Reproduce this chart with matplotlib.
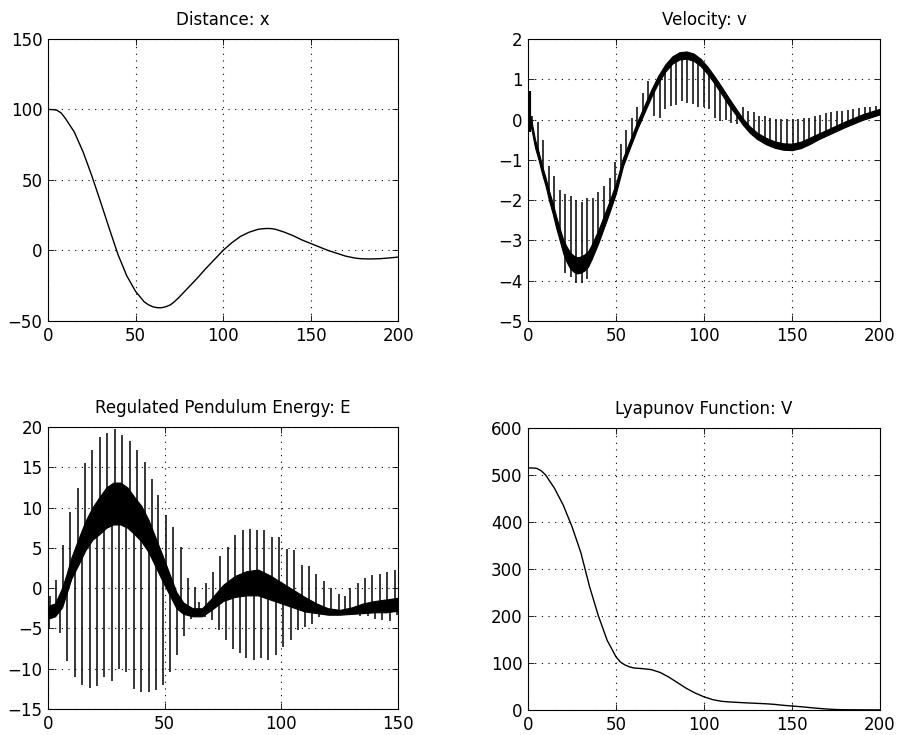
import numpy as np
import matplotlib
matplotlib.use('Agg')
import matplotlib.pyplot as plt

# distance x
x_t = [0, 2.5, 5, 7.5, 10, 15, 20, 25, 30, 35, 40, 45, 50, 55, 57.5, 60, 62.5, 65, 67.5, 70,
       72.5, 75, 80, 85, 90, 95, 100, 105, 110, 115, 120, 122.5, 125, 127.5, 130, 135, 140, 145, 150, 155,
       160, 165, 170, 175, 177.5, 180, 182.5, 185, 190, 195, 200]
x_val = [100, 99.9, 99.5, 97.5, 93.5, 84, 70, 53, 34.5, 15.5, -3, -18, -29, -36.5, -38.6, -40, -40.6, -40.6, -39.8, -38.5,
         -36, -33, -26.5, -20, -13, -6.5, 0, 5.5, 10, 13, 15, 15.4, 15.6, 15.5, 15, 13, 10.5, 7.5, 5, 2.5,
         0, -2, -4, -5.3, -5.7, -5.9, -6.0, -6, -5.8, -5.3, -4.7]

# velocity v : thick band + spikes
v_t = [0, 2, 4, 6, 8, 10, 12, 14, 16, 18, 20, 22, 24, 26, 28, 30, 32, 34, 36, 38,
       40, 43, 46, 50, 54, 58, 62, 66, 70, 74, 78, 82, 86, 90, 94, 98, 102, 106, 110, 114,
       118, 122, 126, 130, 135, 140, 145, 150, 155, 160, 165, 170, 175, 180, 185, 190, 195, 200]
v_mid = [0.2, -0.15, -0.6, -0.9, -1.25, -1.55, -1.9, -2.2, -2.55, -2.85, -3.15, -3.35, -3.5, -3.58, -3.62, -3.6, -3.55, -3.47, -3.3, -3.1,
         -2.9, -2.55, -2.2, -1.7, -1.05, -0.6, -0.15, 0.25, 0.65, 1.0, 1.28, 1.48, 1.58, 1.6, 1.55, 1.42, 1.22, 0.98, 0.72, 0.45,
         0.2, -0.05, -0.25, -0.4, -0.53, -0.62, -0.67, -0.68, -0.63, -0.53, -0.42, -0.32, -0.22, -0.12, -0.03, 0.06, 0.13, 0.2]
v_half = [0.1, 0.1, 0.1, 0.1, 0.1, 0.1, 0.12, 0.13, 0.14, 0.15, 0.17, 0.19, 0.2, 0.2, 0.2, 0.2, 0.2, 0.19, 0.18, 0.17,
          0.16, 0.15, 0.14, 0.12, 0.1, 0.09, 0.09, 0.09, 0.09, 0.09, 0.09, 0.09, 0.09, 0.09, 0.09, 0.09, 0.09, 0.09, 0.09, 0.09,
          0.08, 0.08, 0.08, 0.08, 0.08, 0.08, 0.08, 0.08, 0.08, 0.08, 0.07, 0.07, 0.07, 0.07, 0.07, 0.07, 0.07, 0.07]
vs_t = [2.2, 5.4, 8.5, 11.7, 14.8, 18.0, 21.1, 24.3, 27.4, 30.6, 33.7, 36.9, 40.0, 43.2, 46.3, 49.5, 52.6, 55.8, 58.9, 62.1,
        65.2, 68.4, 71.5, 74.7, 77.8, 81.0, 84.1, 87.3, 90.4, 93.6, 96.7, 99.9, 103.0, 106.2, 109.3, 112.5, 115.6, 118.8, 121.9, 125.1,
        128.2, 131.4, 134.5, 137.7, 140.8, 144.0, 147.1, 150.3, 153.4, 156.6, 159.7, 162.9, 166.0, 169.2, 172.3, 175.5, 178.6, 181.8, 184.9, 188.1,
        191.2, 194.4, 197.5]
vs_tip = [0.1, -0.05, -0.5, -1.15, -1.4, -1.75, -1.85, -1.9, -2.0, -2.05, -1.95, -1.95, -1.8, -1.65, -1.45, -1.05, -0.6, -0.25, 0.05, 0.3,
          0.65, 0.95, 0.1, 0.05, 0.25, 0.33, 0.37, 0.45, 0.42, 0.38, 0.3, 0.3, 0.25, 0.05, -0.03, 0.0, -0.08, -0.12, 0.3, 0.22,
          0.18, 0.1, 0.08, 0.04, 0.02, 0.02, 0.02, 0.02, 0.02, 0.03, 0.05, 0.08, 0.12, 0.16, 0.18, 0.21, 0.22, 0.24, 0.26, 0.29,
          0.31, 0.32, 0.33]
vd_t = [21.1, 24.3, 27.4, 30.6, 33.7]
vd_tip = [-3.8, -3.9, -4.05, -4.05, -3.95]
v_start = [-0.3, 0.7]

# pendulum energy E : noisy band + spikes
e_t = [0, 3, 6, 8, 10, 13, 16, 19, 22, 25, 28, 31, 34, 37, 40, 43, 46, 49, 52, 55,
       58, 62, 66, 70, 75, 80, 85, 90, 95, 100, 105, 110, 115, 120, 125, 130, 135, 140, 145, 150]
e_mid = [-3, -2.7, -1.2, 0.6, 2.5, 4.5, 6.5, 8, 9, 10, 10.5, 10.5, 10, 9, 8, 6.5, 4.5, 2.5, 0.5, -1.5,
         -2.5, -3, -3, -2.0, -0.6, 0.2, 0.6, 0.7, 0.1, -0.6, -1.3, -2, -2.5, -2.9, -3, -2.8, -2.5, -2.3, -2.2, -2]
e_half = [0.8, 0.8, 1.2, 1.2, 1.3, 1.6, 1.8, 2.0, 2.3, 2.5, 2.6, 2.6, 2.5, 2.3, 2.2, 2.0, 1.8, 1.6, 1.3, 1.0,
          0.7, 0.5, 0.5, 0.7, 1.0, 1.3, 1.5, 1.6, 1.5, 1.3, 1.1, 0.9, 0.6, 0.4, 0.3, 0.4, 0.6, 0.7, 0.8, 0.8]
eu_t = [0.9, 3.6, 6.5, 9.6, 12.7, 16.0, 19.0, 22.3, 25.4, 28.6, 31.7, 35.0, 38.1, 41.4, 44.4, 47.3, 50.5, 53.7, 56.9, 59.8,
        62.9, 64.6, 67.6, 70.5, 73.7, 77.0, 80.1, 83.4, 86.6, 89.7, 92.7, 95.9, 99.0, 102.3, 105.4, 108.7, 111.9, 115.0, 118.2, 121.4,
        124.5, 127.3, 129.6, 132.8, 135.7, 138.9, 142.1, 145.3, 148.5]
eu_tip = [-1.0, 1.0, 5.4, 9.5, 12.4, 15.5, 17.1, 18.7, 19.2, 19.7, 19.0, 18.2, 17.1, 15.7, 13.6, 11.5, 9.1, 7.6, 5.1, 1.2,
          0.2, -1.7, 0.6, 2.0, 4.0, 5.1, 6.6, 7.2, 7.3, 7.2, 7.2, 6.4, 6.4, 4.9, 4.7, 2.9, 2.7, 1.8, 0.9, 0.0,
          -0.7, -1.0, 0.0, 0.6, 1.2, 1.6, 1.7, 2.0, 2.2]
ed_t = [0.3, 2.9, 5.3, 8.3, 11.5, 14.7, 17.9, 20.8, 24.0, 27.2, 30.3, 33.6, 36.8, 40.0, 43.2, 46.4, 49.3, 52.4, 55.3, 58.3,
        61.4, 64.6, 67.1, 70.3, 73.3, 76.4, 79.3, 82.1, 85.0, 88.1, 91.4, 94.3, 97.6, 100.7, 103.9, 106.9, 110.0, 113.1, 116.1, 119.3,
        133.7, 136.9, 140.1, 143.3, 146.5, 149.5]
ed_tip = [-5.0, -3.6, -5.6, -9.0, -11.0, -12.0, -12.4, -12.2, -11.0, -11.5, -10.0, -10.4, -12.5, -12.9, -12.9, -12.7, -12.0, -10.4, -8.3, -6.0,
          -3.8, -3.3, -3.6, -4.0, -5.2, -6.5, -7.5, -8.1, -8.7, -8.9, -8.7, -8.9, -8.3, -7.3, -6.5, -5.2, -4.8, -4.4, -3.6, -3.0,
          -3.4, -3.5, -3.8, -4.0, -4.1, -3.3]

# lyapunov V
V_t = [0, 2.5, 5, 7.5, 10, 15, 20, 25, 30, 35, 40, 45, 50, 52.5, 55, 57.5, 60, 65, 70, 75,
       80, 85, 90, 95, 100, 105, 110, 115, 120, 125, 130, 135, 140, 145, 150, 155, 160, 165, 170, 175,
       180, 185, 190, 195, 200]
V_val = [515, 515, 514, 509, 500, 472, 436, 390, 335, 262, 200, 148, 113, 102, 96, 92, 89.5, 88, 86, 80,
         70, 58, 46, 36, 28, 22, 18.5, 17, 16, 15, 14.2, 13.3, 12, 10, 8.5, 7, 5.2, 3.5, 2, 1,
         0.6, 0.5, 0.4, 0.3, 0.3]


def matlab_axes(ax, xlim, ylim, xticks, yticks, title):
    ax.set_xlim(xlim)
    ax.set_ylim(ylim)
    ax.set_xticks(xticks)
    ax.set_yticks(yticks)
    ax.grid(True, linestyle=(0, (1, 5)), color='black', linewidth=0.8)
    ax.tick_params(direction='in', length=4, width=0.6, top=True, right=True,
                   labelsize=12, pad=4, colors='black')
    for s in ax.spines.values():
        s.set_linewidth(0.8)
    ax.set_title(title, fontsize=12, pad=10)


fig = plt.figure(figsize=(8.98, 7.35), dpi=100)
ax1 = fig.add_axes([0.0535, 0.5633, 0.3898, 0.3837])
ax2 = fig.add_axes([0.588, 0.5633, 0.392, 0.3837])
ax3 = fig.add_axes([0.0535, 0.0354, 0.3898, 0.3837])
ax4 = fig.add_axes([0.588, 0.034, 0.392, 0.3837])

ax1.plot(x_t, x_val, color='black', linewidth=1.0)
matlab_axes(ax1, (0, 200), (-50, 150), [0, 50, 100, 150, 200], [-50, 0, 50, 100, 150], 'Distance: x')

vm = np.array(v_mid)
vh = np.array(v_half)
ax2.fill_between(v_t, vm - vh, vm + vh, color='black', linewidth=0.8)
ax2.vlines(vs_t, np.interp(vs_t, v_t, v_mid), vs_tip, color='black', linewidth=1.1)
ax2.vlines(vd_t, np.interp(vd_t, v_t, v_mid), vd_tip, color='black', linewidth=1.1)
ax2.vlines([0.6], v_start[0], v_start[1], color='black', linewidth=3)
matlab_axes(ax2, (0, 200), (-5, 2), [0, 50, 100, 150, 200], [-5, -4, -3, -2, -1, 0, 1, 2], 'Velocity: v')

em = np.array(e_mid)
eh = np.array(e_half)
ax3.fill_between(e_t, em - eh, em + eh, color='black', linewidth=0.8)
ax3.vlines(eu_t, np.interp(eu_t, e_t, e_mid), eu_tip, color='black', linewidth=1.1)
ax3.vlines(ed_t, np.interp(ed_t, e_t, e_mid), ed_tip, color='black', linewidth=1.1)
matlab_axes(ax3, (0, 150), (-15, 20), [0, 50, 100, 150], [-15, -10, -5, 0, 5, 10, 15, 20],
            'Regulated Pendulum Energy: E')

ax4.plot(V_t, V_val, color='black', linewidth=1.0)
matlab_axes(ax4, (0, 200), (0, 600), [0, 50, 100, 150, 200], [0, 100, 200, 300, 400, 500, 600],
            'Lyapunov Function: V')

plt.savefig('out.png', dpi=100)
